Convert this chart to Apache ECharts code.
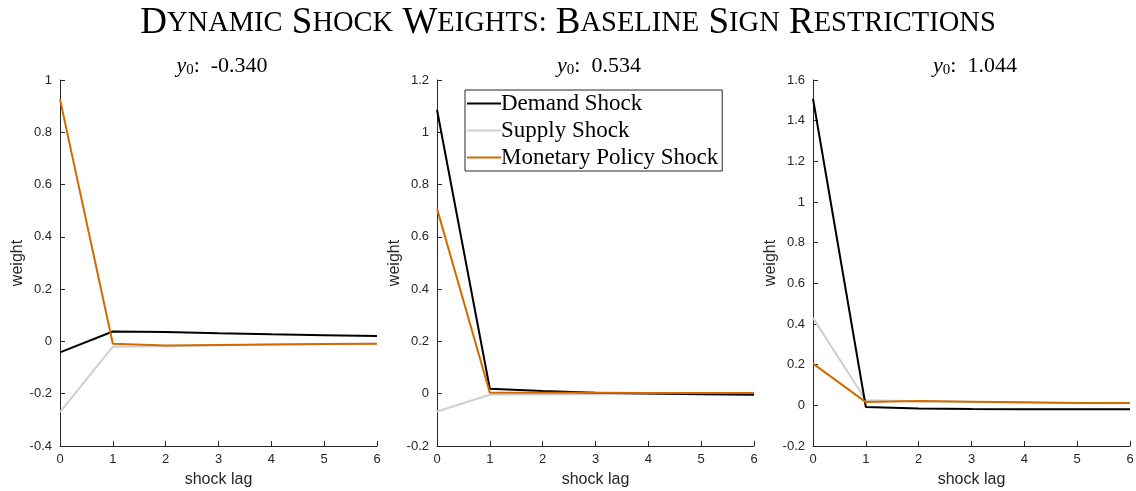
<!DOCTYPE html>
<html>
<head>
<meta charset="utf-8">
<script src="https://cdn.jsdelivr.net/npm/echarts@6/dist/echarts.min.js"></script>
<style>
  html, body { margin: 0; padding: 0; background: #fff; }
  #main { width: 1136px; height: 491px; }
</style>
</head>
<body>
<div id="main"></div>
<script>
var lags = [0, 1, 2, 3, 4, 5, 6];
var seriesNames = ['Demand Shock', 'Supply Shock', 'Monetary Policy Shock'];
var panelY0 = ['-0.340', '0.534', '1.044'];

// panel 1
var demand1 = [-0.042, 0.038, 0.036, 0.031, 0.027, 0.024, 0.021];
var supply1 = [-0.270, -0.020, -0.018, -0.015, -0.012, -0.010, -0.009];
var money1 = [0.926, -0.009, -0.016, -0.014, -0.012, -0.010, -0.009];
// panel 2
var demand2 = [1.086, 0.019, 0.010, 0.004, 0.001, -0.002, -0.004];
var supply2 = [-0.068, -0.004, -0.003, -0.002, -0.001, 0.000, 0.000];
var money2 = [0.708, 0.004, 0.004, 0.004, 0.003, 0.003, 0.003];
// panel 3
var demand3 = [1.508, -0.008, -0.015, -0.018, -0.019, -0.019, -0.019];
var supply3 = [0.430, 0.025, 0.020, 0.016, 0.013, 0.011, 0.010];
var money3 = [0.205, 0.016, 0.021, 0.018, 0.015, 0.012, 0.011];

var yMin = [-0.4, -0.2, -0.2];
var yMax = [1, 1.2, 1.6];

var colors = ['#000000', '#cfcfcf', '#d16b00'];
var panels = [[demand1, supply1, money1], [demand2, supply2, money2], [demand3, supply3, money3]];
var gridLeft = [60, 437, 813];

// small caps title via rich text
function smallCaps(str) {
    return str.split(' ').map(function (w) {
        return '{b|' + w.charAt(0) + '}{s|' + w.slice(1).toUpperCase() + '}';
    }).join('{b| }');
}

var chart = echarts.init(document.getElementById('main'));
var axisCol = '#262626';

var grids = [], xAxes = [], yAxes = [], series = [], titles = [];
titles.push({
    text: smallCaps('Dynamic Shock Weights: Baseline Sign Restrictions'),
    left: 'center', top: 0,
    textStyle: {
        fontWeight: 'normal',
        rich: {
            b: { fontFamily: 'Liberation Serif', fontSize: 37, fontWeight: 'normal', color: '#000' },
            s: { fontFamily: 'Liberation Serif', fontSize: 28.5, fontWeight: 'normal', color: '#000' }
        }
    }
});

for (var p = 0; p < 3; p++) {
    grids.push({ left: gridLeft[p], top: 80, width: 317, height: 366, outerBoundsMode: 'none', containLabel: false });
    titles.push({
        text: '{i|y}{sub|0}{t|:  ' + panelY0[p] + '}',
        left: gridLeft[p] + 157, top: 50, textAlign: 'center',
        textStyle: {
            fontWeight: 'normal',
            rich: {
                i: { fontFamily: 'Liberation Serif', fontStyle: 'italic', fontWeight: 'normal', fontSize: 22, color: '#000' },
                sub: { fontFamily: 'Liberation Serif', fontWeight: 'normal', fontSize: 15, color: '#000', verticalAlign: 'bottom', padding: [8, 0, 0, 0] },
                t: { fontFamily: 'Liberation Serif', fontWeight: 'normal', fontSize: 22, color: '#000' }
            }
        }
    });
    xAxes.push({
        type: 'value', gridIndex: p, min: 0, max: 6, interval: 1,
        name: 'shock lag', nameLocation: 'middle', nameGap: 26,
        nameTextStyle: { fontFamily: 'Liberation Sans', fontSize: 16, color: axisCol },
        axisLine: { onZero: false, lineStyle: { color: axisCol, width: 1 } },
        axisTick: { inside: true, length: 5, lineStyle: { color: axisCol } },
        axisLabel: { fontFamily: 'Liberation Sans', fontSize: 13, color: axisCol, margin: 7 },
        splitLine: { show: false }
    });
    yAxes.push({
        type: 'value', gridIndex: p, min: yMin[p], max: yMax[p], interval: 0.2,
        name: 'weight', nameLocation: 'middle', nameGap: 31,
        nameTextStyle: { fontFamily: 'Liberation Sans', fontSize: 16, color: axisCol },
        axisLine: { show: true, onZero: false, lineStyle: { color: axisCol, width: 1 } },
        axisTick: { show: true, inside: true, length: 5, lineStyle: { color: axisCol } },
        axisLabel: {
            fontFamily: 'Liberation Sans', fontSize: 13, color: axisCol, margin: 8,
            formatter: function (v) { return String(Math.round(v * 10) / 10); }
        },
        splitLine: { show: false }
    });
    for (var s = 0; s < 3; s++) {
        series.push({
            name: seriesNames[s], type: 'line', xAxisIndex: p, yAxisIndex: p,
            data: lags.map(function (x, i) { return [x, panels[p][s][i]]; }),
            symbol: 'none', color: colors[s],
            lineStyle: { width: 2, color: colors[s] },
            z: s === 1 ? 2 : (s === 0 ? 3 : 4),
            animation: false
        });
    }
}

chart.setOption({
    animation: false,
    title: titles,
    grid: grids,
    xAxis: xAxes,
    yAxis: yAxes,
    legend: {
        data: seriesNames,
        orient: 'vertical',
        left: 465, top: 90,
        padding: [2, 4, 2, 2],
        itemGap: 4,
        icon: 'rect',
        itemWidth: 34, itemHeight: 2,
        borderColor: '#262626', borderWidth: 1,
        backgroundColor: '#fff',
        selectedMode: false,
        textStyle: { fontFamily: 'Liberation Serif', fontSize: 23, color: '#000', padding: [0, 0, 0, -5] }
    },
    series: series
});
</script>
</body>
</html>
